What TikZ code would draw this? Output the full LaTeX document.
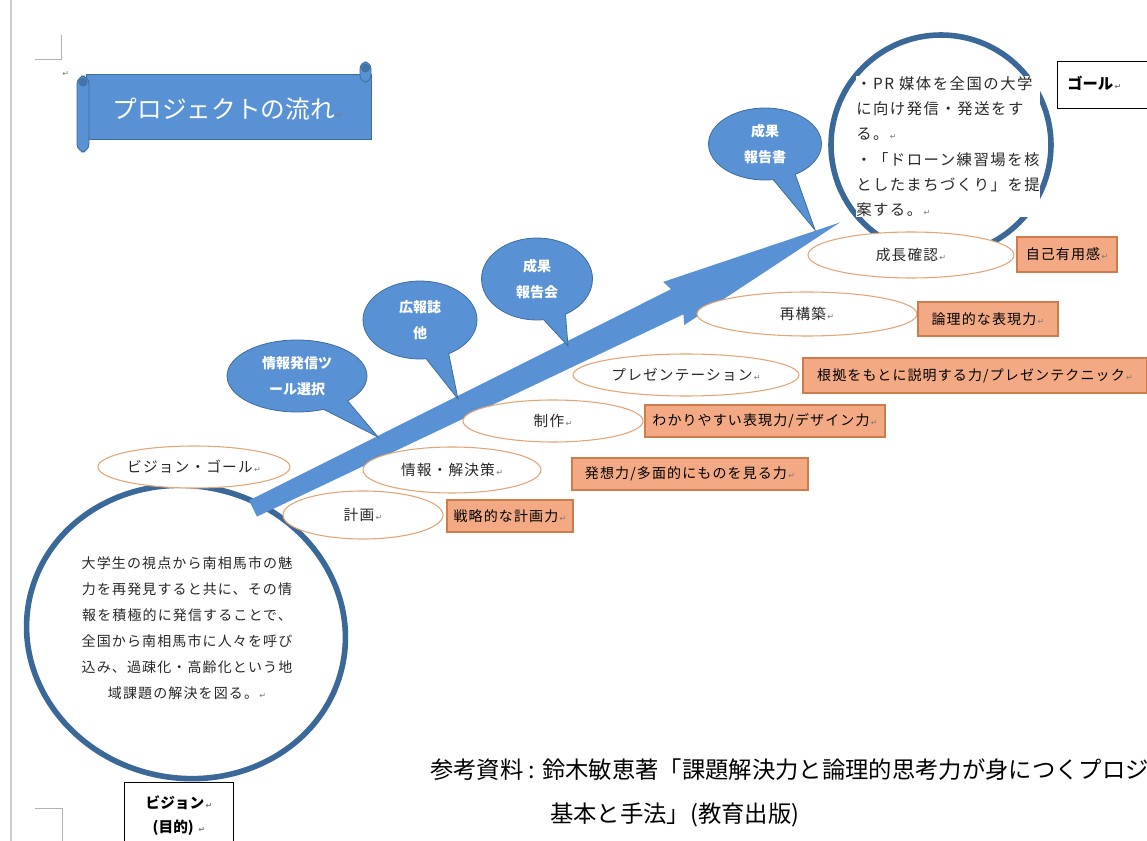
\documentclass[tikz,border=0pt]{standalone}
\usepackage{fontspec}
\setmainfont{Noto Sans CJK JP}
\newfontfamily\jp{Noto Sans CJK JP}
\newfontfamily\jpsp[LetterSpace=8]{Noto Sans CJK JP}
\newfontfamily\jpspb[LetterSpace=10]{Noto Sans CJK JP}
\newfontfamily\dv{DejaVu Sans}
\usetikzlibrary{shapes.geometric,shapes.callouts}
\definecolor{bblue}{RGB}{88,146,212}
\definecolor{bdark}{RGB}{62,108,160}
\definecolor{cring}{RGB}{58,104,152}
\definecolor{eorange}{RGB}{226,166,118}
\definecolor{boxfill}{RGB}{243,170,132}
\definecolor{boxline}{RGB}{205,125,75}
\definecolor{retc}{RGB}{120,120,120}
\definecolor{txt}{RGB}{40,40,40}
\definecolor{pageline}{RGB}{205,205,205}
\newcommand\ret{{\dv\fontsize{6}{6}\selectfont\color{retc}\,↵}}
\begin{document}
\begin{tikzpicture}[x=0.75pt,y=-0.75pt,
 ell/.style={ellipse,draw=eorange,line width=0.8pt,fill=white,inner sep=0pt,font=\jpsp\fontsize{11}{12}\selectfont,text=txt},
 obox/.style={rectangle,draw=boxline,line width=0.8pt,fill=boxfill,inner sep=0pt,font=\jpsp\fontsize{10.5}{12}\selectfont,text=black},
 bubble/.style={ellipse callout,fill=bblue,draw=bdark,line width=0.6pt,inner sep=0pt,callout pointer arc=24,font=\jp\bfseries\fontsize{10.5}{19.5}\selectfont,text=white,align=center},
 ring/.style={draw=cring,line width=4.2pt,fill=white,inner sep=0pt},
 lbl/.style={rectangle,draw=black,line width=0.7pt,fill=white,inner sep=0pt},
 cmark/.style={draw=gray!60,line width=0.6pt}
]
\useasboundingbox (0,0) rectangle (1147,841);
\clip (0,0) rectangle (1147,841);
\fill[white] (0,0) rectangle (1147,841);

% page edge and corner marks
\draw[pageline,line width=1.5pt] (11,0) -- (11,841);
\draw[cmark] (35,59) -- (61,59) -- (61,35);
\draw[cmark] (35,808) -- (62,808) -- (62,841);
\node[inner sep=0pt] (pm) at (65,74) {\ret};

% title banner
\filldraw[fill=bblue,draw=bdark,line width=0.6pt] (86,74) rectangle (371,139);
\filldraw[fill=bblue,draw=bdark,line width=0.6pt,rounded corners=5pt] (360,62) rectangle (371,82);
\filldraw[fill=bdark!80!bblue,draw=bdark,line width=0.5pt] (365.5,68) circle[radius=4];
\filldraw[fill=bblue,draw=bdark,line width=0.6pt,rounded corners=6pt] (77,76) rectangle (89,152);
\filldraw[fill=bdark!80!bblue,draw=bdark,line width=0.5pt] (83,82) circle[radius=4];
\node[font=\jp\fontsize{18.5}{20}\selectfont,text=white] (title) at (228,109) {プロジェクトの流れ\ret};

% big circles
\node[ring,ellipse,rotate=-12,minimum width=240pt,minimum height=219pt] (vision) at (186,632) {};
\node[ring,circle,minimum size=165pt] (goal) at (941,145) {};

% main arrow
\begin{scope}[shift={(253,508.5)},rotate=25.98]
\fill[bblue] (0,-9) -- (472,-14) -- (468,-24) -- (653,0) -- (468,24) -- (472,14) -- (0,9) -- cycle;
\end{scope}

% speech bubbles
\node[bubble,minimum width=105pt,minimum height=54pt,callout absolute pointer={(378,437)}] (c1) at (297,376) {情報発信ツ\\ール選択};
\node[bubble,minimum width=85.5pt,minimum height=58.5pt,callout absolute pointer={(458,399)}] (c2) at (420,320) {広報誌\\他};
\node[bubble,minimum width=83.25pt,minimum height=61.5pt,callout absolute pointer={(568,346)}] (c3) at (537,279) {成果\\報告会};
\node[bubble,minimum width=84.75pt,minimum height=54pt,callout absolute pointer={(815,230)}] (c4) at (765,144) {成果\\報告書};

% step ellipses
\node[ell,minimum width=144pt,minimum height=31.5pt] (vg) at (194,467) {ビジョン・ゴール\ret};
\node[ell,minimum width=120pt,minimum height=36pt] (kk) at (363,515) {計画\ret};
\node[ell,minimum width=133.5pt,minimum height=34.5pt] (jk) at (452,470) {情報・解決策\ret};
\node[ell,minimum width=135pt,minimum height=31.5pt] (ss) at (553,421) {制作\ret};
\node[ell,minimum width=169.5pt,minimum height=31.5pt] (pr) at (686,375) {プレゼンテーション\ret};
\node[ell,minimum width=165pt,minimum height=33pt] (sk) at (807,314) {再構築\ret};
\node[ell,minimum width=154.5pt,minimum height=34.5pt] (sc) at (911,255) {成長確認\ret};

% skill boxes
\node[obox,minimum width=94.5pt,minimum height=24pt] (b1) at (510,516) {戦略的な計画力\ret};
\node[obox,minimum width=177pt,minimum height=24pt] (b2) at (690,474) {発想力/多面的にものを見る力\ret};
\node[obox,minimum width=180pt,minimum height=24pt] (b3) at (765,421) {わかりやすい表現力/デザイン力\ret};
\node[obox,minimum width=258pt,minimum height=26.25pt] (b4) at (975,375.5) {根拠をもとに説明する力/プレゼンテクニック\ret};
\node[obox,minimum width=105pt,minimum height=25.5pt] (b5) at (988,319) {論理的な表現力\ret};
\node[obox,minimum width=75pt,minimum height=26.25pt] (b6) at (1067,254.5) {自己有用感\ret};

% circle texts
\node[fill=white,inner sep=0pt,anchor=west,align=left,font=\jpspb\fontsize{11.5}{19}\selectfont,text=txt] (goaltxt) at (856,146.5)
 {・PR 媒体を全国の大学\\に向け発信・発送をす\\る。\ret\\・「ドローン練習場を核\\としたまちづくり」を提\\案する。\ret};
\node[inner sep=0pt,align=center,font=\jpsp\fontsize{10.5}{19.5}\selectfont,text=txt] (visiontxt) at (187,628)
 {大学生の視点から南相馬市の魅\\力を再発見すると共に、その情\\報を積極的に発信することで、\\全国から南相馬市に人々を呼び\\込み、過疎化・高齢化という地\\域課題の解決を図る。\ret};

% labels
\node[lbl,anchor=north west,minimum width=71.25pt,minimum height=35.25pt] (goalbox) at (1057,61) {};
\node[anchor=west,inner sep=0pt,font=\jp\bfseries\fontsize{11.5}{14}\selectfont] (goalword) at (1067,83) {ゴール\ret};
\node[lbl,anchor=north west,minimum width=81.75pt,minimum height=50pt,align=center,font=\jp\bfseries\fontsize{11}{18}\selectfont] (visionbox) at (124,782) {ビジョン\ret\\(目的) \ret};

% reference
\node[anchor=west,inner sep=0pt,font=\jp\fontsize{17.5}{18}\selectfont] (ref1) at (430,770) {参考資料 : 鈴木敏恵著「課題解決力と論理的思考力が身につくプロジ};
\node[anchor=west,inner sep=0pt,font=\jp\fontsize{17.5}{18}\selectfont] (ref2) at (550,815) {基本と手法」(教育出版)};
\end{tikzpicture}
\end{document}
